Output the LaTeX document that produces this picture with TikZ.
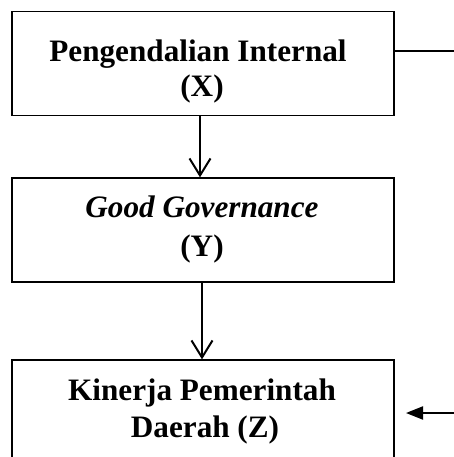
\documentclass[tikz,border=0pt]{standalone}
\usepackage{fontspec}
\setmainfont{Liberation Serif}
\usetikzlibrary{arrows.meta}
\begin{document}
\begin{tikzpicture}[x=1pt,y=-1pt,
  box/.style={draw=black, line width=1.3pt, rectangle, inner sep=0pt},
  lbl/.style={font=\fontsize{31.2}{35}\selectfont\bfseries, inner sep=0pt, anchor=base},
  conn/.style={line width=2pt},
  openarrow/.style={conn, -{Straight Barb[length=17pt,width=21pt,line width=2pt]}},
  fillarrow/.style={conn, -{Triangle[length=17pt,width=13pt]}}]
\useasboundingbox (0,0) rectangle (454,457);
\clip (0,0) rectangle (454,457);
% boxes
\node[box, minimum width=382pt, minimum height=104pt] (X) at (203,63.5) {};
\node[box, minimum width=382pt, minimum height=104pt] (Y) at (203,230) {};
\node[box, minimum width=382pt, minimum height=140pt] (Z) at (203,430) {};
% labels
\node[lbl] (X1) at (198,62) {Pengendalian Internal};
\node[lbl] (X2) at (202,97) {(X)};
\node[lbl] (Y1) at (202,217) {\itshape Good Governance};
\node[lbl] (Y2) at (202,256) {(Y)};
\node[lbl] (Z1) at (202,400) {Kinerja Pemerintah};
\node[lbl] (Z2) at (205,437) {Daerah (Z)};
% connectors
\coordinate (Xr) at (454,51);
\coordinate (Zr) at (454,413);
\coordinate (Zh) at (406,413);
\draw[openarrow] (X.south -| 200,0) -- (Y.north -| 200,0);
\draw[openarrow] (Y.south -| 202,0) -- (Z.north -| 202,0);
\draw[conn] (X.east |- Xr) -- (Xr);
\draw[fillarrow] (Zr) -- (Zh);
\end{tikzpicture}
\end{document}
